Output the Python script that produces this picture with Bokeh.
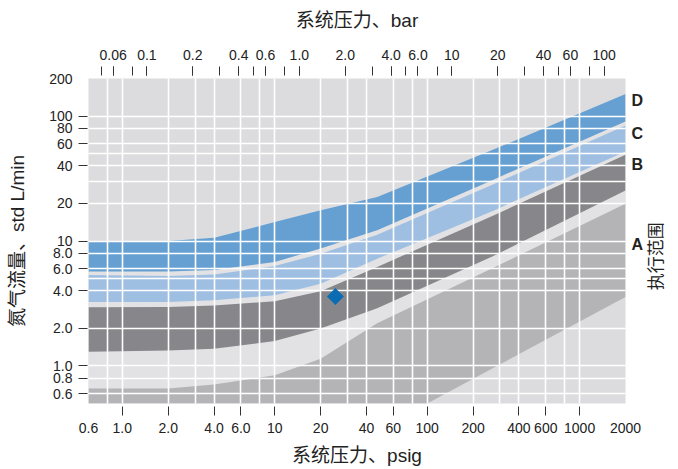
import math
from bokeh.plotting import figure
from bokeh.models import FixedTicker, LogAxis, Range1d, LogScale
from bokeh.embed import file_html
from bokeh.resources import INLINE

# ---------------- data ----------------
PSI_PER_BAR = 14.5

psig_tick_values = [0.6, 1, 2, 4, 6, 10, 20, 40, 60, 100, 200, 400, 600, 1000, 2000]
psig_tick_labels = ["0.6", "1.0", "2.0", "4.0", "6.0", "10", "20", "40", "60", "100",
                    "200", "400", "600", "1000", "2000"]
psig_tick_marks = [1, 2, 4, 6, 10, 20, 40, 60, 100, 200, 400, 600, 1000]

bar_tick_values = [0.06, 0.1, 0.2, 0.4, 0.6, 1, 2, 4, 6, 10, 20, 40, 60, 100]
bar_tick_labels = ["0.06", "0.1", "0.2", "0.4", "0.6", "1.0", "2.0", "4.0", "6.0",
                   "10", "20", "40", "60", "100"]
bar_tick_marks = [0.05, 0.06, 0.08, 0.1, 0.2, 0.3, 0.4, 0.5, 0.6, 0.8, 1, 2, 3, 4, 5,
                  6, 8, 10, 20, 30, 40, 50, 60, 80, 100]

flow_tick_values = [0.6, 0.8, 1, 2, 4, 6, 8, 10, 20, 40, 60, 80, 100, 200]
flow_tick_labels = ["0.6", "0.8", "1.0", "2.0", "4.0", "6.0", "8.0", "10", "20", "40",
                    "60", "80", "100", "200"]
flow_tick_marks = [0.6, 0.8, 1, 2, 4, 6, 8, 10, 20, 40, 60, 80, 100]

grid_psig = [0.8, 1, 2, 3, 4, 6, 8, 10, 20, 30, 40, 60, 80, 100, 200, 300, 400, 600, 800, 1000]
grid_flow = [0.6, 0.8, 1, 2, 4, 5, 6, 8, 10, 20, 30, 40, 50, 60, 80, 100]

range_names = ["D", "C", "B", "A"]
range_label_flow = [134, 72, 41, 9.3]
range_title = "执行范围"
range_title_flow = [4.03]

band_x = [0.6, 2, 4, 10, 20, 47, 272, 2000]
D_top = [10, 10, 10.6, 14.2, 17.6, 22.5, 54, 150]
D_bottom = [5.7, 5.7, 5.85, 6.8, 8.7, 12.2, 31, 90.5]
C_top = [5.35, 5.25, 5.4, 6.3, 7.9, 11.2, 28.5, 84]
C_bottom = [3.25, 3.25, 3.35, 3.68, 4.55, 7.2, 17.5, 52]
B_top = [2.95, 2.96, 3.05, 3.29, 3.96, 6.2, 16, 49]
B_bottom = [1.3, 1.33, 1.37, 1.58, 1.99, 2.9, 7.6, 25.4]
A_top = [0.66, 0.66, 0.71, 0.84, 1.14, 2.2, 6.1, 19.9]
A_bottom_x = [0.6, 100, 2000]
A_bottom = [0.5, 0.5, 3.56]

point_psig = [25]
point_flow = [3.6]

# ---------------- styles ----------------
BG = "#dcdcde"
GAP = "#e2e2e4"
COL_D = "#66a0d2"
COL_C = "#9fbfe2"
COL_B = "#87878b"
COL_A = "#b4b4b7"
PT = "#0b6cb3"
FONT_NUM = "'Liberation Sans', Arial, sans-serif"
FONT_CJK = "'Liberation Sans', 'Noto Sans CJK SC', sans-serif"
TXT = "#222222"

p = figure(width=678, height=469, x_axis_type="log", y_axis_type="log",
           x_range=Range1d(0.6, 2000), y_range=Range1d(0.5, 200),
           output_backend="svg", toolbar_location=None,
           min_border_left=88, min_border_right=48, min_border_top=78, min_border_bottom=66,
           background_fill_color=BG, border_fill_color="white", outline_line_color=None)


def poly(xu, yu, xl, yl):
    return list(xu) + list(xl)[::-1], list(yu) + list(yl)[::-1]


# gap envelope (between bands)
gx, gy = poly(band_x, D_top, band_x, A_top)
p.patch(gx, gy, fill_color=GAP, line_color=None)
for top, bot, col in [(D_top, D_bottom, COL_D), (C_top, C_bottom, COL_C), (B_top, B_bottom, COL_B)]:
    xs, ys = poly(band_x, top, band_x, bot)
    p.patch(xs, ys, fill_color=col, line_color=None)
xs, ys = poly(band_x, A_top, A_bottom_x, A_bottom)
p.patch(xs, ys, fill_color=COL_A, line_color=None)

pt = p.scatter(point_psig, point_flow, marker="square", angle=math.pi / 4, size=12,
               fill_color=PT, line_color=None)
pt.level = "overlay"

# grids
p.xgrid.ticker = FixedTicker(ticks=grid_psig)
p.ygrid.ticker = FixedTicker(ticks=grid_flow)
for g in (p.xgrid[0], p.ygrid[0]):
    g.grid_line_color = "white"
    g.grid_line_width = 1.6
    g.level = "annotation"


def style_axis(ax):
    ax.axis_line_color = None
    ax.major_label_text_font = FONT_NUM
    ax.major_label_text_font_size = "14px"
    ax.major_label_text_color = TXT
    ax.axis_label_text_font = FONT_CJK
    ax.axis_label_text_font_size = "19px"
    ax.axis_label_text_font_style = "normal"
    ax.axis_label_text_color = TXT
    ax.minor_tick_line_color = "#333333"
    ax.major_tick_line_color = "#333333"


# bottom axis (psig)
xa = p.xaxis[0]
style_axis(xa)
xa.ticker = FixedTicker(ticks=psig_tick_values, minor_ticks=psig_tick_marks)
xa.major_label_overrides = dict(zip(psig_tick_values, psig_tick_labels))
xa.major_tick_line_color = None
xa.major_tick_in = 0
xa.major_tick_out = 12
xa.minor_tick_in = -3
xa.minor_tick_out = 12
xa.major_label_standoff = 7
xa.axis_label = "系统压力、psig"
xa.axis_label_standoff = 9

# top axis (bar)
p.extra_x_ranges = {"bar": Range1d(0.6 / PSI_PER_BAR, 2000 / PSI_PER_BAR)}
p.extra_x_scales = {"bar": LogScale()}
ta = LogAxis(x_range_name="bar",
             ticker=FixedTicker(ticks=bar_tick_values, minor_ticks=bar_tick_marks))
style_axis(ta)
ta.major_label_overrides = dict(zip(bar_tick_values, bar_tick_labels))
ta.major_tick_in = -3
ta.major_tick_out = 12
ta.minor_tick_in = -3
ta.minor_tick_out = 12
ta.major_label_standoff = 7
ta.axis_label = "系统压力、bar"
ta.axis_label_standoff = 16
p.add_layout(ta, "above")

# left axis (flow)
ya = p.yaxis[0]
style_axis(ya)
ya.ticker = FixedTicker(ticks=flow_tick_values, minor_ticks=flow_tick_marks)
ya.major_label_overrides = dict(zip(flow_tick_values, flow_tick_labels))
ya.major_tick_line_color = None
ya.major_tick_in = 0
ya.major_tick_out = 10
ya.minor_tick_in = -1
ya.minor_tick_out = 10
ya.major_label_standoff = 6
ya.axis_label = "氮气流量、std L/min"
ya.axis_label_standoff = 18

# right axis (range letters)
ra = LogAxis(ticker=FixedTicker(ticks=range_label_flow, minor_ticks=[]))
style_axis(ra)
ra.major_label_overrides = dict(zip(range_label_flow, range_names))
ra.major_tick_line_color = None
ra.minor_tick_line_color = None
ra.major_tick_in = 0
ra.major_tick_out = 0
ra.major_label_standoff = 6
ra.major_label_text_font_style = "bold"
ra.major_label_text_font_size = "16px"
p.add_layout(ra, "right")

# right title, rotated to read bottom-to-top
rt = LogAxis(ticker=FixedTicker(ticks=range_title_flow, minor_ticks=[]))
style_axis(rt)
rt.major_label_overrides = dict(zip(range_title_flow, [range_title]))
rt.major_tick_line_color = None
rt.minor_tick_line_color = None
rt.major_tick_in = 0
rt.major_tick_out = 0
rt.major_label_standoff = 10
rt.major_label_orientation = math.pi / 2
rt.major_label_text_font = FONT_CJK
rt.major_label_text_font_size = "17px"
p.add_layout(rt, "right")

open("out.html", "w").write(file_html(p, INLINE))
